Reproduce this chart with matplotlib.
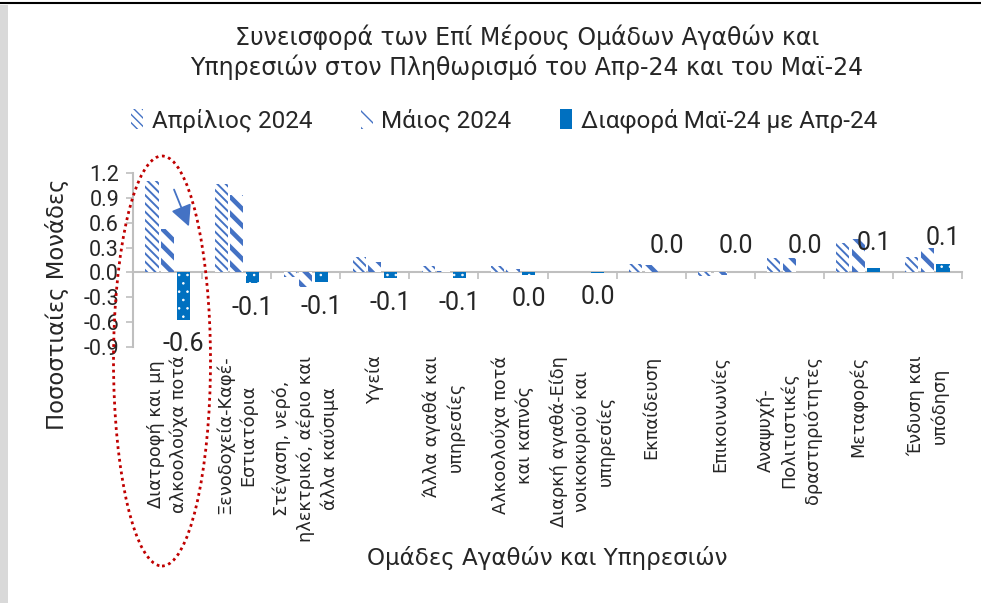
import matplotlib
matplotlib.use("Agg")
import matplotlib.pyplot as plt
import matplotlib as mpl
import numpy as np
from matplotlib.patches import Ellipse, Patch, FancyArrowPatch
from matplotlib.transforms import blended_transform_factory

NUM_FONT = ["Roboto", "DejaVu Sans"]
TXT_FONT = ["DejaVu Sans"]
plt.rcParams['font.family'] = NUM_FONT

categories = [
    "Διατροφή και μη\nαλκοολούχα ποτά",
    "Ξενοδοχεία-Καφέ-\nΕστιατόρια",
    "Στέγαση, νερό,\nηλεκτρικό, αέριο και\nάλλα καύσιμα",
    "Υγεία",
    "Άλλα αγαθά και\nυπηρεσίες",
    "Αλκοολούχα ποτά\nκαι καπνός",
    "Διαρκή αγαθά-Είδη\nνοικοκυριού και\nυπηρεσίες",
    "Εκπαίδευση",
    "Επικοινωνίες",
    "Αναψυχή-\nΠολιτιστικές\nδραστηριότητες",
    "Μεταφορές",
    "Ένδυση και\nυπόδηση",
]
april = [1.10, 1.07, -0.06, 0.19, 0.08, 0.08, 0.01, 0.10, -0.04, 0.17, 0.35, 0.19]
may = [0.53, 0.93, -0.18, 0.12, 0.02, 0.04, 0.006, 0.09, -0.03, 0.18, 0.40, 0.29]
diff = [-0.57, -0.13, -0.12, -0.07, -0.07, -0.03, -0.004, 0.003, 0.01, 0.01, 0.05, 0.10]
series_names = ["Απρίλιος 2024", "Μάιος 2024", "Διαφορά Μαϊ-24 με Απρ-24"]
yticks = [-0.9, -0.6, -0.3, 0.0, 0.3, 0.6, 0.9, 1.2]

title = "Συνεισφορά των Επί Μέρους Ομάδων Αγαθών και\nΥπηρεσιών στον Πληθωρισμό του Απρ-24 και του Μαϊ-24"
ylabel = "Ποσοστιαίες Μονάδες"
xlabel = "Ομάδες Αγαθών και Υπηρεσιών"

BLUE_H = "#4472C4"
BLUE_S = "#0070C0"
GRID = "#BFBFBF"
TXT = "#262626"

W, H = 981, 603
fig = plt.figure(figsize=(W / 100, H / 100), dpi=100)
fig.patch.set_facecolor("white")
renderer = fig.canvas.get_renderer()


def fit(t, target, vertical=False):
    bb = t.get_window_extent(renderer)
    cur = bb.height if vertical else bb.width
    t.set_fontsize(t.get_fontsize() * target / cur)


# decorations of the frame
fig.add_artist(plt.Rectangle((0, 0), 8 / W, 1 - 5 / H, transform=fig.transFigure,
                             facecolor="#D9D9D9", edgecolor="none"))
fig.add_artist(plt.Line2D([0, 1], [1 - 3 / H, 1 - 3 / H], transform=fig.transFigure,
                          color="black", lw=1.5))

ax = fig.add_axes([133 / W, 1 - 347 / H, (962 - 133) / W, (347 - 173) / H])
x = np.arange(len(categories))
bw = 0.19
off = 0.225

with mpl.rc_context({'hatch.linewidth': 1.4}):
    ax.bar(x - off, april, bw, facecolor="white", edgecolor=BLUE_H, linewidth=0,
           hatch="\\\\\\\\", zorder=3)
with mpl.rc_context({'hatch.linewidth': 3.3}):
    ax.bar(x, may, bw, facecolor="white", edgecolor=BLUE_H, linewidth=0,
           hatch="\\\\", zorder=3)
ax.bar(x + off, diff, bw, facecolor=BLUE_S, edgecolor=BLUE_S, linewidth=0, zorder=3)
with mpl.rc_context({'hatch.linewidth': 0.6}):
    ax.bar(x + off, diff, bw, facecolor="none", edgecolor="white", linewidth=0,
           hatch="..", zorder=4)

for xi, v in zip(x + off, diff):
    s = f"{v:.1f}"
    if s == "-0.0":
        s = "0.0"
    dy = -17.5 if v < 0 else 18.5
    ax.annotate(s, (xi, v), xytext=(0, dy), textcoords="offset points",
                ha="center", va="center", fontsize=18, color=TXT, zorder=5)

ax.set_xlim(-0.5, len(categories) - 0.5)
ax.set_ylim(-0.9, 1.2)
ax.set_yticks(yticks)
ax.set_yticklabels([f"{t:.1f}" for t in yticks])
ax.tick_params(axis="y", length=5, width=1.2, color=GRID, labelsize=15.5, labelcolor=TXT, pad=5)

for sp in ["top", "right"]:
    ax.spines[sp].set_visible(False)
ax.spines["left"].set_color(GRID)
ax.spines["left"].set_linewidth(1.5)
ax.spines["bottom"].set_position(("data", 0))
ax.spines["bottom"].set_color(GRID)
ax.spines["bottom"].set_linewidth(1.5)
ax.set_xticks(np.arange(len(categories) + 1) - 0.5)
ax.set_xticklabels([])
ax.tick_params(axis="x", length=5, width=1.2, color=GRID, direction="out")

trans = blended_transform_factory(ax.transData, ax.transAxes)
cat_texts = []
for xi, lab in zip(x, categories):
    t = ax.text(xi, -0.05, lab, transform=trans, rotation=90, ha="center", va="top",
                multialignment="center", fontsize=12.5, color=TXT, linespacing=1.35,
                family=TXT_FONT)
    cat_texts.append(t)
# size category labels from the first one's long line (~160 px in the reference)
probe = ax.text(0, 0, "αλκοολούχα ποτά", fontsize=12.5, family=TXT_FONT)
fit(probe, 158)
cat_size = probe.get_fontsize()
probe.remove()
for t in cat_texts:
    t.set_fontsize(cat_size)

tt = fig.text(527 / W, 1 - 52 / H, title, ha="center", va="center", fontsize=17.5,
              color=TXT, linespacing=1.2, family=TXT_FONT)
fit(tt, 672)
yl = fig.text(57 / W, 1 - 304 / H, ylabel, rotation=90, ha="center", va="center",
              fontsize=16.5, color=TXT, family=TXT_FONT)
fit(yl, 252, vertical=True)
xl = fig.text(547 / W, 1 - 558 / H, xlabel, ha="center", va="center", fontsize=16.5,
              color=TXT, family=TXT_FONT)
fit(xl, 360)

with mpl.rc_context({'hatch.linewidth': 1.4}):
    h1 = Patch(facecolor="white", edgecolor=BLUE_H, linewidth=0, hatch="\\\\\\\\")
with mpl.rc_context({'hatch.linewidth': 3.3}):
    h2 = Patch(facecolor="white", edgecolor=BLUE_H, linewidth=0, hatch="\\\\")
h3 = Patch(facecolor=BLUE_S, edgecolor=BLUE_S, linewidth=0)
fig.legend([h1, h2, h3], series_names, loc="center", bbox_to_anchor=(504 / W, 1 - 121 / H),
           ncol=3, frameon=False, fontsize=17.5, handlelength=0.5, handleheight=0.9,
           handletextpad=0.35, columnspacing=2.0, labelcolor=TXT)

# annotation ellipse and arrow
ell = Ellipse((162 / W, 1 - 361 / H), 97 / W, 410 / H, transform=fig.transFigure,
              fill=False, edgecolor="#C00000", linestyle=(0, (1, 1.3)), linewidth=2)
fig.add_artist(ell)
arr = FancyArrowPatch((173 / W, 1 - 187 / H), (190 / W, 1 - 229 / H),
                      transform=fig.transFigure, arrowstyle="-|>,head_length=8,head_width=4",
                      color=BLUE_H, linewidth=1.3, mutation_scale=1.6)
fig.add_artist(arr)

fig.savefig("out.png", dpi=100)
